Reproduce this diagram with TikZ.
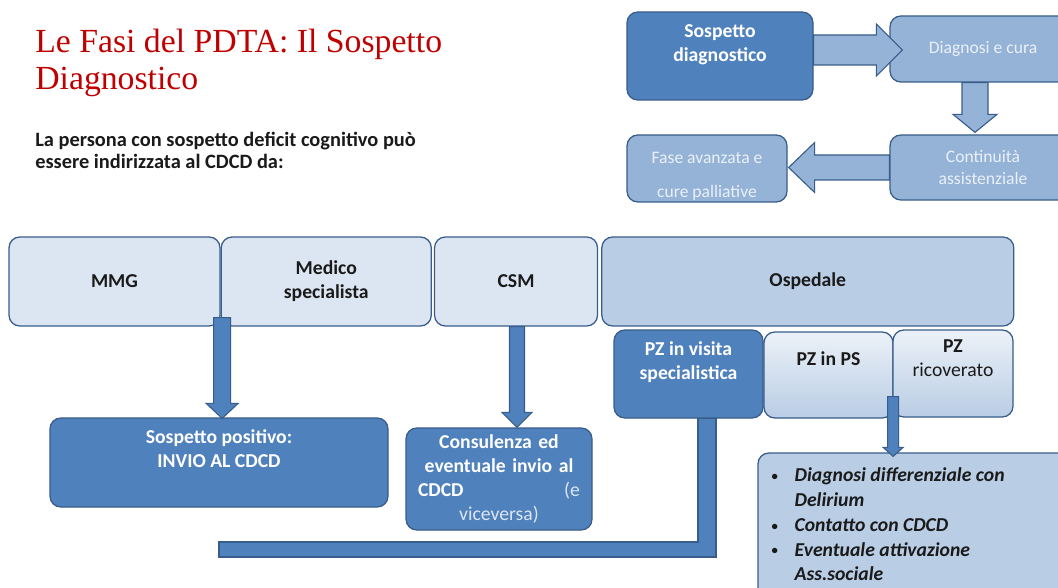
\documentclass[tikz,border=0pt]{standalone}
\usepackage{fontspec}
\setmainfont{Carlito}
\newfontfamily\titlefont{Liberation Serif}
\usetikzlibrary{positioning, calc}

\definecolor{darkblue}{HTML}{4F81BD}
\definecolor{edgeblue}{HTML}{385D8A}
\definecolor{paleblue}{HTML}{DCE6F2}
\definecolor{midblue}{HTML}{B9CDE5}
\definecolor{flowblue}{HTML}{95B3D7}
\definecolor{titlered}{HTML}{C00000}
\definecolor{inkdark}{HTML}{1A1A1A}

\newcommand{\boxfont}{\fontsize{14}{17}\selectfont\bfseries}
\newcommand{\flowfont}{\fontsize{12.5}{15.6}\selectfont}
\newcommand{\smallbullet}{\raisebox{1pt}{\fontsize{9}{9}\selectfont\upshape\textbullet}}

\tikzset{
  box/.style={draw=edgeblue, line width=0.9pt, rounded corners=0.27cm, inner sep=0pt, align=center},
  palebox/.style={box, fill=paleblue, text=inkdark, font=\boxfont},
  darkbox/.style={box, fill=darkblue, text=white, font=\boxfont},
  flowbox/.style={box, fill=flowblue, text=white!80!flowblue, font=\flowfont},
  gradbox/.style={box, top color=paleblue!55!white, bottom color=midblue},
  boxtext/.style={inner sep=0pt, align=center, font=\boxfont},
  barrow/.style n args={3}{draw=edgeblue, line width=0.8pt, line join=miter,
    to path={
      ($(\tikztostart)!#1!90:(\tikztotarget)$)
      -- ($(\tikztotarget)!#3!(\tikztostart)!#1!-90:(\tikztostart)$)
      -- ($(\tikztotarget)!#3!(\tikztostart)!#2!-90:(\tikztostart)$)
      -- (\tikztotarget)
      -- ($(\tikztotarget)!#3!(\tikztostart)!#2!90:(\tikztostart)$)
      -- ($(\tikztotarget)!#3!(\tikztostart)!#1!90:(\tikztostart)$)
      -- ($(\tikztostart)!#1!-90:(\tikztotarget)$)
      -- cycle}},
}

\begin{document}
\begin{tikzpicture}
\useasboundingbox (0,0) rectangle (26.45,-14.7);
\fill[white] (0,0) rectangle (26.45,-14.7);
\clip (0,0) rectangle (26.45,-14.7);

% Title and intro
\node[anchor=north west, inner sep=0pt, align=left, text=titlered, font=\titlefont\fontsize{24}{26.3}\selectfont] (title) at (0.875,-0.72) {Le Fasi del PDTA: Il Sospetto\\Diagnostico};
\node[anchor=north west, inner sep=0pt, align=left, text=inkdark, font=\fontsize{14.5}{15.8}\selectfont\bfseries] (intro) at (0.875,-3.3) {La persona con sospetto deficit cognitivo può\\essere indirizzata al CDCD da:};

% Phases of the pathway
\node[darkbox, minimum width=4.65cm, minimum height=2.2cm] (sosdiag) at (18.0,-1.4) {};
\node[boxtext, text=white, below=0.325cm of sosdiag.north] (sosdiagtxt) {Sospetto\\diagnostico};
\node[flowbox, minimum width=4.65cm, minimum height=1.65cm] (diag) at (24.575,-1.225) {Diagnosi e cura};
\node[flowbox, minimum width=4.65cm, minimum height=1.625cm] (cont) at (24.575,-4.1875) {Continuità\\assistenziale};
\node[flowbox, minimum width=4.0cm, minimum height=1.675cm] (fase) at (17.675,-4.2125) {};
\node[inner sep=0pt, align=center, font=\flowfont, text=white!80!flowblue, below=0.45cm of fase.north] (fasetxt) {Fase avanzata e\\[8pt]cure palliative};

\coordinate (f1s) at ($(sosdiag.east)+(0,0.15)$);
\coordinate (f1t) at ($(diag.west |- f1s)+(0.325,0)$);
\draw[barrow={0.375cm}{0.65cm}{0.65cm}, fill=flowblue] (f1s) to (f1t);
\coordinate (f2s) at ($(diag.south)+(-0.2,0)$);
\coordinate (f2t) at ($(f2s |- cont.north)+(0,0.05)$);
\draw[barrow={0.325cm}{0.55cm}{0.45cm}, fill=flowblue] (f2s) to (f2t);
\coordinate (f3t) at ($(fase.east |- cont.west)+(0.025,0)$);
\draw[barrow={0.3125cm}{0.625cm}{0.65cm}, fill=flowblue] (cont.west) to (f3t);

% Referring actors
\node[palebox, minimum width=5.275cm, minimum height=2.225cm] (mmg) at (2.8625,-7.0375) {MMG};
\node[palebox, minimum width=5.25cm, minimum height=2.225cm, right=0pt of mmg] (medico) {Medico\\specialista};
\node[palebox, minimum width=4.075cm, minimum height=2.225cm, right=0.05cm of medico] (csm) {CSM};
\node[box, fill=midblue, text=inkdark, font=\boxfont, minimum width=10.3cm, minimum height=2.225cm, right=0.075cm of csm] (osp) {Ospedale};

% Hospital settings
\node[darkbox, minimum width=3.725cm, minimum height=2.2cm] (visita) at (17.2125,-9.35) {};
\node[boxtext, text=white, below=0.3cm of visita.north] (visitatxt) {PZ in visita\\specialistica};
\node[gradbox, minimum width=3.225cm, minimum height=2.15cm] (ps) at (20.7125,-9.375) {};
\node[boxtext, text=inkdark, below=0.5cm of ps.north] (pstxt) {PZ in PS};
\node[gradbox, minimum width=3.0cm, minimum height=2.175cm] (ricov) at (23.825,-9.3375) {};
\node[boxtext, text=inkdark, below=0.25cm of ricov.north] (ricovtxt) {PZ\\{\mdseries ricoverato}};

% Outcomes
\node[darkbox, minimum width=8.45cm, minimum height=2.225cm] (pos) at (5.475,-11.5625) {};
\node[boxtext, text=white, below=0.3cm of pos.north] (postxt) {Sospetto positivo:\\INVIO AL CDCD};
\node[darkbox, minimum width=4.65cm, minimum height=2.55cm, text width=4.05cm] (cons) at (12.475,-11.975) {Consulenza ed\\eventuale invio al\\CDCD\hfill{\mdseries\color{white!80!darkblue}(e}\\{\mdseries\color{white!80!darkblue}viceversa)}};
\node[box, fill=midblue, minimum width=7.8cm, minimum height=3.675cm] (bullets) at (22.85,-13.1625) {};
\node[anchor=north west, inner sep=0pt, text=inkdark, font=\fontsize{14}{17.6}\selectfont\bfseries\itshape] (bullettxt) at ($(bullets.north west)+(0.3,-0.3)$) {%
\begin{tabular}{@{}p{0.625cm}@{}p{6cm}@{}}
\hspace{0.05cm}\smallbullet & Diagnosi differenziale con\newline Delirium\\
\hspace{0.05cm}\smallbullet & Contatto con CDCD\\
\hspace{0.05cm}\smallbullet & Eventuale attivazione\newline Ass.sociale
\end{tabular}};

% Arrows towards the outcomes
\coordinate (a1s) at ($(mmg.south east)+(0.0375,0.225)$);
\coordinate (a1t) at ($(a1s |- pos.north)+(0,-0.025)$);
\draw[barrow={0.2125cm}{0.4cm}{0.375cm}, fill=darkblue] (a1s) to (a1t);
\coordinate (a2s) at ($(csm.south)+(0.025,0)$);
\coordinate (a2t) at (a2s |- cons.north);
\draw[barrow={0.1875cm}{0.375cm}{0.375cm}, fill=darkblue] (a2s) to (a2t);
\coordinate (a3s) at ($(ps.south east)+(-0.0125,0.55)$);
\coordinate (a3t) at ($(a3s |- bullets.north)+(0,-0.1)$);
\draw[barrow={0.1375cm}{0.25cm}{0.225cm}, fill=darkblue] (a3s) to (a3t);

\coordinate (vtop) at ($(visita.south)+(0.4625,0)$);
\coordinate (barend) at (5.475,-13.7375);
\draw[fill=darkblue, draw=edgeblue, line width=0.8pt] ($(vtop)+(-0.225,0)$) -- ($(vtop)+(0.225,0)$) |- ($(barend)+(0,-0.1875)$) -- ($(barend)+(0,0.1875)$) -| ($(vtop)+(-0.225,0)$) -- cycle;
\end{tikzpicture}
\end{document}
